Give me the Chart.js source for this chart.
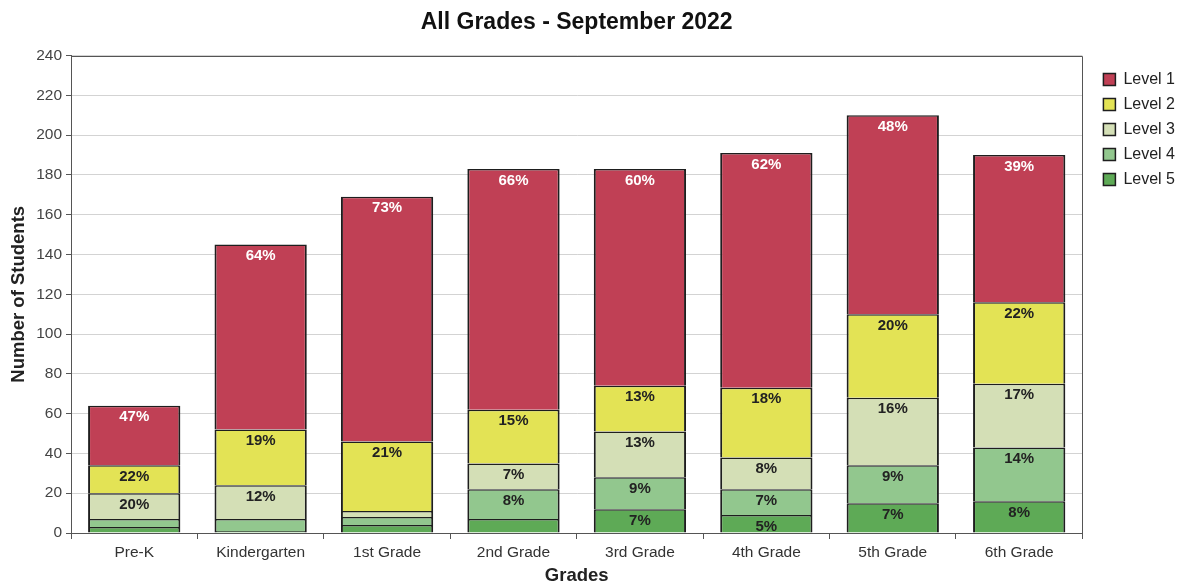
<!DOCTYPE html>
<html>
<head>
<meta charset="utf-8">
<title>All Grades - September 2022</title>
<script src="https://cdn.jsdelivr.net/npm/chart.js@4/dist/chart.umd.min.js"></script>
<style>
    html, body { margin: 0; padding: 0; background: #fff; }
    #chart { display: block; }
</style>
</head>
<body>
<canvas id="chart" width="1191" height="588"></canvas>
<script>
// categories and values per level (students)
const grades = ['Pre-K', 'Kindergarten', '1st Grade', '2nd Grade', '3rd Grade', '4th Grade', '5th Grade', '6th Grade'];
const level1 = [30, 93, 123, 121, 109, 118, 100, 74];
const level2 = [14, 28, 35, 27, 23, 35, 42, 41];
const level3 = [13, 17, 3, 13, 23, 16, 34, 32];
const level4 = [4, 6, 4, 15, 16, 13, 19, 27];
const level5 = [3, 1, 4, 7, 12, 9, 15, 16];
const yTicks = [0, 20, 40, 60, 80, 100, 120, 140, 160, 180, 200, 220, 240];

const FONT = '"Liberation Sans", Arial, sans-serif';

// totals for the percent labels
const totals = grades.map((g, i) => level1[i] + level2[i] + level3[i] + level4[i] + level5[i]);

// percent labels inside the segments
const segmentLabels = {
    id: 'segmentLabels',
    afterDatasetsDraw(chart) {
        const ctx = chart.ctx;
        ctx.save();
        ctx.font = 'bold 15px ' + FONT;
        ctx.textAlign = 'center';
        ctx.textBaseline = 'middle';
        chart.data.datasets.forEach((ds, di) => {
            const meta = chart.getDatasetMeta(di);
            meta.data.forEach((bar, i) => {
                const h = bar.base - bar.y;
                if (h < 16) return;
                const pct = Math.round(ds.data[i] / totals[i] * 100);
                ctx.fillStyle = ds.label === 'Level 1' ? '#ffffff' : '#222222';
                ctx.fillText(pct + '%', bar.x, bar.y + 11.5);
            });
        });
        ctx.restore();
    }
};

// box round the plot area (top and right sides)
const plotFrame = {
    id: 'plotFrame',
    beforeDatasetsDraw(chart) {
        const { ctx, chartArea } = chart;
        ctx.save();
        ctx.strokeStyle = '#555';
        ctx.lineWidth = 1;
        ctx.beginPath();
        ctx.moveTo(Math.round(chartArea.left) + 0.5, Math.round(chartArea.top) + 0.5);
        ctx.lineTo(Math.round(chartArea.right) + 0.5, Math.round(chartArea.top) + 0.5);
        ctx.lineTo(Math.round(chartArea.right) + 0.5, Math.round(chartArea.bottom) + 0.5);
        ctx.stroke();
        ctx.restore();
    }
};

// move the legend a bit away from the plot
const legendOffset = {
    id: 'legendOffset',
    afterLayout(chart) {
        const lg = chart.legend;
        const dx = chart.chartArea.right + 12 - lg.left;
        lg.left += dx;
        lg.right += dx;
        lg.top += 7;
        lg.bottom += 7;
    }
};

const ctx = document.getElementById('chart').getContext('2d');

new Chart(ctx, {
    type: 'bar',
    data: {
        labels: grades,
        datasets: [
            { label: 'Level 5', data: level5, backgroundColor: '#5eaa56' },
            { label: 'Level 4', data: level4, backgroundColor: '#92c78e' },
            { label: 'Level 3', data: level3, backgroundColor: '#d4dfb6' },
            { label: 'Level 2', data: level2, backgroundColor: '#e3e355' },
            { label: 'Level 1', data: level1, backgroundColor: '#c04055' }
        ].map(ds => Object.assign(ds, {
            borderColor: '#1e1e1e',
            borderWidth: { top: 1.5, left: 2, right: 2, bottom: 0 },
            borderSkipped: 'bottom',
            barPercentage: 0.73,
            categoryPercentage: 1.0
        }))
    },
    options: {
        responsive: false,
        animation: false,
        layout: { padding: { right: 18 } },
        plugins: {
            title: {
                display: true,
                text: 'All Grades - September 2022',
                fullSize: false,
                color: '#111',
                font: { family: FONT, size: 23, weight: 'bold' },
                padding: { top: 9, bottom: 19 }
            },
            legend: {
                position: 'right',
                align: 'start',
                fullSize: false,
                reverse: true,
                labels: {
                    color: '#222',
                    font: { family: FONT, size: 16 },
                    boxWidth: 12,
                    boxHeight: 12,
                    padding: 9,
                    generateLabels(chart) {
                        const items = Chart.defaults.plugins.legend.labels.generateLabels(chart);
                        items.forEach(it => { it.lineWidth = 1.5; });
                        return items;
                    }
                }
            },
            tooltip: { enabled: false }
        },
        scales: {
            x: {
                stacked: true,
                grid: {
                    display: true,
                    drawOnChartArea: false,
                    offset: true,
                    tickLength: 6,
                    color: '#555'
                },
                border: { color: '#555', width: 1 },
                ticks: {
                    color: '#333',
                    font: { family: FONT, size: 15.5 },
                    padding: 4,
                    maxRotation: 0
                },
                title: {
                    display: true,
                    text: 'Grades',
                    color: '#222',
                    font: { family: FONT, size: 18.5, weight: 'bold' },
                    padding: { top: 4, bottom: 1 }
                },
                afterFit(scale) { scale.height = 55; }
            },
            y: {
                stacked: true,
                min: 0,
                max: 240,
                afterBuildTicks(scale) { scale.ticks = yTicks.map(v => ({ value: v })); },
                grid: {
                    color: '#d3d3d3',
                    tickColor: '#555',
                    tickLength: 5
                },
                border: { color: '#555', width: 1 },
                ticks: {
                    color: '#444',
                    font: { family: FONT, size: 15.5 },
                    padding: 4
                },
                title: {
                    display: true,
                    text: 'Number of Students',
                    color: '#222',
                    font: { family: FONT, size: 18.5, weight: 'bold' },
                    padding: { top: 8, bottom: 4 }
                },
                afterFit(scale) { scale.width = 71; }
            }
        }
    },
    plugins: [segmentLabels, plotFrame, legendOffset]
});
</script>
</body>
</html>
